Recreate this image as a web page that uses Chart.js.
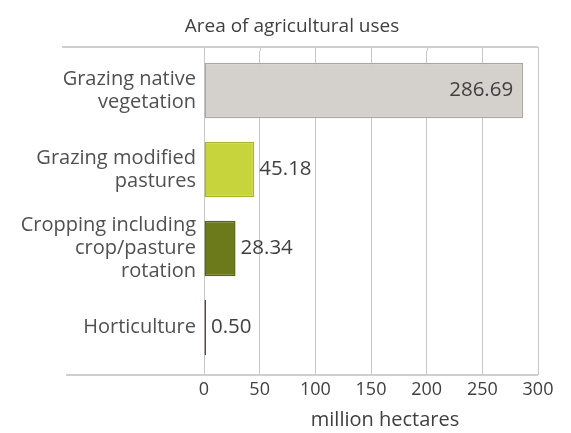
<!DOCTYPE html>
<html>
<head>
<meta charset="utf-8">
<script src="https://cdn.jsdelivr.net/npm/chart.js@4/dist/chart.umd.min.js"></script>
<style>
html,body{margin:0;padding:0;background:#fff;}
canvas{display:block;}
</style>
</head>
<body>
<canvas id="c" width="571" height="433"></canvas>
<script>
const categories = [["Grazing native","vegetation"],["Grazing modified","pastures"],["Cropping including","crop/pasture","rotation"],["Horticulture"]];
const areaValues = [286.69, 45.18, 28.34, 0.50];
const barColors = ["#d4d0cb", "#c8d43c", "#6c7a1c", "#7a3434"];
const barBorders = ["#aaa6a0", "#aab42c", "#596614", "#7a3434"];
const xTicks = [0, 50, 100, 150, 200, 250, 300];
const chartTitle = "Area of agricultural uses";
const xTitle = "million hectares";

const FONT = "'Open Sans', 'Noto Sans', sans-serif";
const GRID = '#c8c8c8';

const decor = {
  id: 'decor',
  beforeDatasetsDraw(chart) {
    const {ctx, chartArea: a} = chart;
    const xs = chart.scales.x;
    ctx.save();
    ctx.strokeStyle = GRID;
    ctx.lineWidth = 1;
    ctx.beginPath();
    xTicks.forEach(v => {
      const px = Math.round(xs.getPixelForValue(v)) + 0.5;
      ctx.moveTo(px, a.top - 4); ctx.lineTo(px, a.top);
    });
    ctx.stroke();
    ctx.strokeStyle = '#cfcfcf';
    ctx.lineWidth = 2;
    ctx.beginPath();
    ctx.moveTo(62, a.top - 4); ctx.lineTo(a.right, a.top - 4);
    ctx.moveTo(66, a.bottom + 8); ctx.lineTo(a.right, a.bottom + 8);
    ctx.stroke();
    ctx.fillStyle = '#404040';
    ctx.textAlign = 'center';
    ctx.textBaseline = 'middle';
    ctx.font = "19px " + FONT;
    ctx.fillText(chartTitle, 292, 27);
    ctx.font = "20px " + FONT;
    ctx.fillText(xTitle, (a.left + a.right) / 2 + 14, 420);
    ctx.restore();
  },
  afterDatasetsDraw(chart) {
    const {ctx} = chart;
    const meta = chart.getDatasetMeta(0);
    ctx.save();
    ctx.font = "20.5px " + FONT;
    ctx.fillStyle = '#404040';
    ctx.textBaseline = 'middle';
    meta.data.forEach((bar, i) => {
      const v = chart.data.datasets[0].data[i];
      const txt = v.toFixed(2);
      if (v > 150) {
        ctx.textAlign = 'right';
        ctx.fillText(txt, bar.x - 10, bar.y);
      } else {
        ctx.textAlign = 'left';
        ctx.fillText(txt, bar.x + 5, bar.y);
      }
    });
    ctx.restore();
  }
};

new Chart(document.getElementById('c'), {
  type: 'bar',
  data: {
    labels: categories,
    datasets: [{
      data: areaValues,
      backgroundColor: barColors,
      borderColor: barBorders,
      borderWidth: 1.5,
      borderSkipped: false,
      minBarLength: 2,
      barPercentage: 0.7,
      categoryPercentage: 1
    }]
  },
  options: {
    indexAxis: 'y',
    responsive: false,
    animation: false,
    devicePixelRatio: 1,
    layout: {padding: {left: 0, right: 33, top: 51, bottom: 0}},
    plugins: {
      legend: {display: false},
      tooltip: {enabled: false},
      title: {display: false}
    },
    scales: {
      x: {
        min: 0, max: 300,
        afterBuildTicks(scale) { scale.ticks = xTicks.map(v => ({value: v})); },
        afterFit(scale) { scale.height = 66; },
        grid: {color: GRID, lineWidth: 1, drawTicks: true, tickLength: 8},
        border: {display: false},
        ticks: {color: '#404040', font: {family: FONT, size: 18}, padding: 4},
        title: {display: false}
      },
      y: {
        afterFit(scale) { scale.width = 204; },
        grid: {display: false, drawTicks: false},
        border: {display: false},
        ticks: {color: '#505050', font: {family: FONT, size: 20, lineHeight: 1.15}, padding: 8}
      }
    }
  },
  plugins: [decor]
});
</script>
</body>
</html>
